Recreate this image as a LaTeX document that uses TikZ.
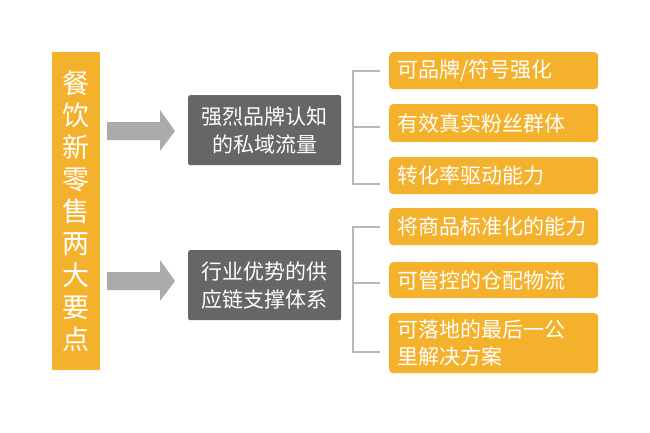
\documentclass[tikz,border=0pt]{standalone}
\usepackage{fontspec}
\setmainfont{Noto Sans CJK SC}
\definecolor{orng}{HTML}{F4B12C}
\definecolor{dgray}{HTML}{666666}
\definecolor{agray}{HTML}{ABABAB}
\definecolor{lgray}{HTML}{B8B8B8}
\tikzset{
  obox/.style={fill=orng, rounded corners=4pt, minimum width=209pt, minimum height=37pt, text=white, font=\fontsize{21}{27}\selectfont, align=left, anchor=north west, inner xsep=8pt, inner ysep=0pt, text width=193pt},
  gbox/.style={fill=dgray, rounded corners=2pt, minimum width=153pt, minimum height=70pt, text=white, font=\fontsize{21}{28}\selectfont, align=center, anchor=north west, inner sep=0pt},
  brk/.style={draw=lgray, line width=1.6pt},
  arrbody/.style={fill=agray, draw=none}
}
\begin{document}
\begin{tikzpicture}[x=1pt,y=-1pt]
\useasboundingbox (0,0) rectangle (650,432);
\fill[white] (0,0) rectangle (650,432);
\node[fill=orng, minimum width=48pt, minimum height=318pt, anchor=north west, inner sep=0pt, text=white, align=center, font=\fontsize{27}{32}\selectfont] (title) at (52,52) {餐\\饮\\新\\零\\售\\两\\大\\要\\点};
\node[gbox] (g1) at (188,95) {强烈品牌认知\\的私域流量};
\node[gbox] (g2) at (188,250) {行业优势的供\\应链支撑体系};
% arrows
\coordinate (a1s) at (107,131);
\coordinate (a2s) at (107,281);
\fill[arrbody] (a1s) ++(0,-9) -- ++(53,0) -- ++(0,-12) -- (175,131) -- (160,151) -- ++(0,-11) -- ++(-53,0) -- cycle;
\fill[arrbody] (a2s) ++(0,-9) -- ++(53,0) -- ++(0,-12) -- (175,281) -- (160,301) -- ++(0,-11) -- ++(-53,0) -- cycle;
\node[obox, minimum height=37pt] (o1) at (389,52) {可品牌/符号强化};
\node[obox, minimum height=38pt] (o2) at (389,104) {有效真实粉丝群体};
\node[obox, minimum height=37pt] (o3) at (389,157) {转化率驱动能力};
\node[obox, minimum height=37pt] (o4) at (389,208) {将商品标准化的能力};
\node[obox, minimum height=36pt] (o5) at (389,262) {可管控的仓配物流};
\node[obox, minimum height=60pt] (o6) at (389,313) {可落地的最后一公\\里解决方案};
\coordinate (b1t) at (353,71);
\coordinate (b1b) at (353,184);
\coordinate (b2t) at (353,227);
\coordinate (b2b) at (353,352);
\draw[brk] (380,71) -- (b1t) -- (b1b) -- ++(27,0);
\draw[brk] (353,127) -- ++(27,0);
\draw[brk] (380,227) -- (b2t) -- (b2b) -- ++(27,0);
\draw[brk] (353,283) -- ++(27,0);
\end{tikzpicture}
\end{document}
